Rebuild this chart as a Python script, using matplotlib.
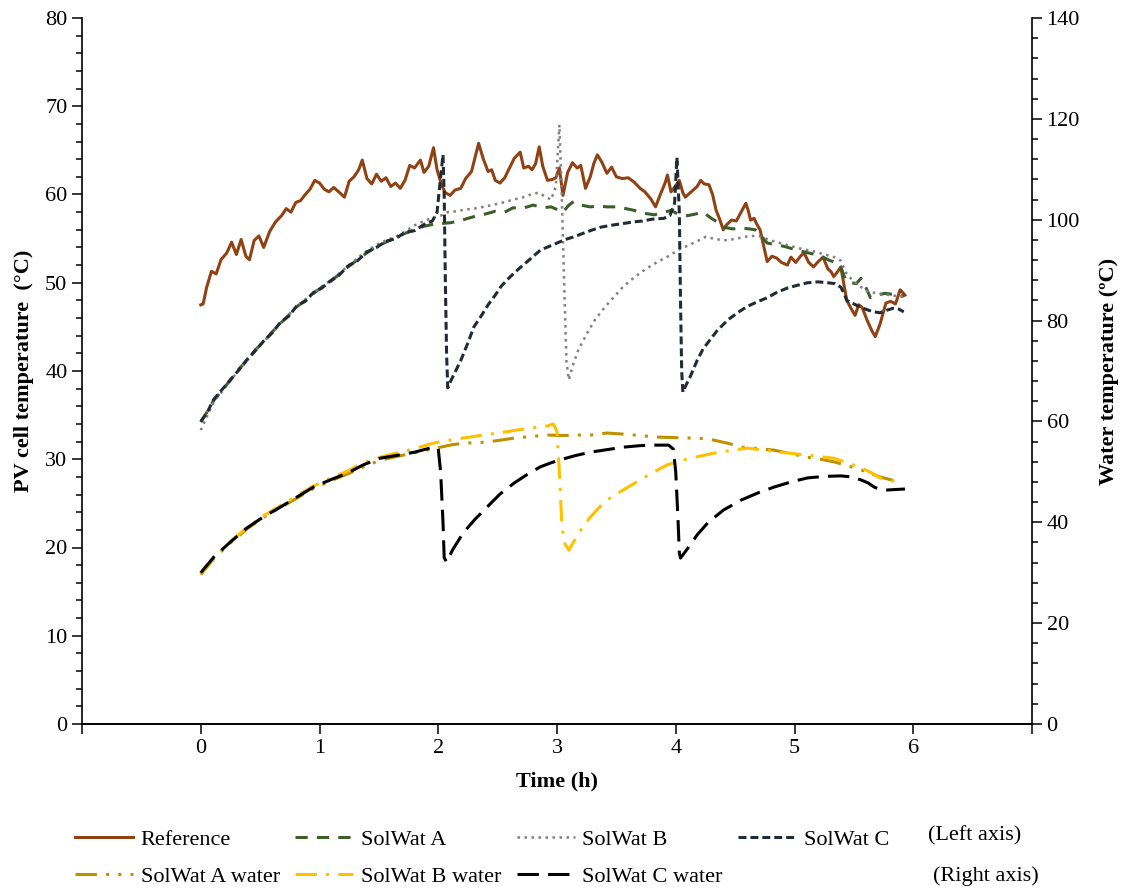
import numpy as np
import matplotlib.pyplot as plt
from matplotlib.ticker import MultipleLocator

plt.rcParams['font.family'] = ['Liberation Serif', 'DejaVu Serif']
plt.rcParams['font.size'] = 16

# ---- PV cell temperatures (left axis) ----
t_ref = [0.00, 0.02, 0.05, 0.09, 0.13, 0.17, 0.22, 0.26, 0.30, 0.34, 0.38, 0.41, 0.45, 0.49, 0.53,
         0.58, 0.63, 0.68, 0.72, 0.76, 0.80, 0.84, 0.88, 0.92, 0.96, 1.00, 1.04, 1.08, 1.12, 1.17,
         1.21, 1.25, 1.29, 1.33, 1.36, 1.40, 1.44, 1.48, 1.52, 1.56, 1.60, 1.64, 1.68, 1.72, 1.76,
         1.80, 1.85, 1.88, 1.92, 1.96, 1.99, 2.03, 2.06, 2.10, 2.14, 2.19, 2.23, 2.28, 2.31, 2.34,
         2.38, 2.42, 2.45, 2.48, 2.52, 2.56, 2.60, 2.64, 2.69, 2.72, 2.76, 2.79, 2.82, 2.85, 2.88,
         2.92, 2.96, 2.99, 3.02, 3.05, 3.09, 3.13, 3.17, 3.20, 3.24, 3.28, 3.31, 3.34, 3.38, 3.42,
         3.46, 3.50, 3.55, 3.60, 3.65, 3.70, 3.74, 3.79, 3.83, 3.87, 3.91, 3.93, 3.96, 4.00, 4.03,
         4.06, 4.08, 4.13, 4.18, 4.21, 4.24, 4.28, 4.31, 4.34, 4.37, 4.40, 4.43, 4.47, 4.51, 4.55,
         4.59, 4.61, 4.63, 4.66, 4.68, 4.71, 4.74, 4.77, 4.81, 4.85, 4.89, 4.94, 4.97, 5.01, 5.05,
         5.08, 5.12, 5.16, 5.20, 5.24, 5.28, 5.31, 5.33, 5.36, 5.39, 5.42, 5.44, 5.48, 5.51, 5.54,
         5.57, 5.61, 5.65, 5.68, 5.72, 5.77, 5.81, 5.85, 5.89, 5.93]
reference = [47.5, 47.6, 49.5, 51.3, 51.0, 52.6, 53.4, 54.6, 53.2, 54.9, 53.0, 52.6, 54.8, 55.3, 54.0,
             55.8, 56.9, 57.6, 58.4, 58.0, 59.1, 59.3, 60.0, 60.6, 61.6, 61.3, 60.6, 60.3, 60.8, 60.2,
             59.7, 61.5, 62.0, 62.8, 63.9, 61.8, 61.2, 62.3, 61.5, 61.9, 60.9, 61.3, 60.7, 61.6, 63.3,
             63.0, 63.9, 62.5, 63.2, 65.3, 62.8, 61.0, 60.2, 59.9, 60.5, 60.7, 61.8, 62.6, 64.2, 65.8,
             64.0, 62.6, 62.8, 61.6, 61.3, 61.9, 63.0, 64.1, 64.8, 63.0, 63.2, 62.8, 63.5, 65.4, 63.2,
             61.6, 61.7, 61.9, 63.0, 59.9, 62.5, 63.6, 63.0, 63.3, 60.7, 62.0, 63.5, 64.5, 63.6, 62.4,
             63.1, 62.0, 61.8, 61.9, 61.4, 60.7, 60.3, 59.5, 58.6, 60.0, 61.3, 62.2, 60.3, 61.0, 61.6,
             60.2, 59.7, 60.3, 60.9, 61.6, 61.2, 61.1, 60.0, 58.2, 57.2, 56.0, 56.6, 57.1, 57.0, 58.0,
             59.0, 58.2, 57.1, 57.3, 56.7, 56.0, 54.2, 52.4, 53.0, 52.8, 52.3, 52.0, 52.9, 52.3, 53.0,
             53.4, 52.3, 51.8, 52.4, 52.9, 51.6, 51.2, 50.7, 51.2, 51.8, 49.5, 48.0, 47.0, 46.3, 47.5,
             47.2, 45.8, 44.6, 43.9, 45.3, 47.7, 47.9, 47.6, 49.2, 48.6]

t_a = [0.00, 0.05, 0.11, 0.18, 0.25, 0.32, 0.39, 0.46, 0.53, 0.60, 0.67, 0.74, 0.81, 0.88, 0.95,
       1.02, 1.09, 1.16, 1.24, 1.32, 1.40, 1.48, 1.56, 1.64, 1.72, 1.80, 1.88, 1.95, 2.02, 2.10,
       2.18, 2.25, 2.33, 2.40, 2.48, 2.56, 2.63, 2.70, 2.80, 2.88, 2.95, 3.00, 3.05, 3.10, 3.14,
       3.20, 3.28, 3.35, 3.42, 3.50, 3.58, 3.65, 3.72, 3.82, 3.88, 3.96, 4.03, 4.10, 4.17, 4.23,
       4.30, 4.36, 4.40, 4.48, 4.55, 4.62, 4.67, 4.72, 4.77, 4.85, 4.92, 4.97, 5.05, 5.11, 5.18,
       5.24, 5.30, 5.35, 5.39, 5.43, 5.48, 5.52, 5.56, 5.60, 5.64, 5.70, 5.76, 5.82, 5.88, 5.92]
solwat_a = [34.2, 35.3, 36.7, 37.8, 39.0, 40.2, 41.2, 42.4, 43.3, 44.4, 45.4, 46.3, 47.3, 48.0, 48.8,
            49.5, 50.1, 50.9, 51.8, 52.6, 53.4, 54.1, 54.6, 55.1, 55.6, 56.0, 56.4, 56.6, 56.7, 56.8,
            57.0, 57.3, 57.6, 57.8, 58.1, 58.0, 58.5, 58.4, 58.8, 58.5, 58.6, 58.3, 58.0, 58.8, 59.2,
            58.8, 58.6, 58.7, 58.6, 58.6, 58.4, 58.2, 57.9, 57.7, 57.9, 58.2, 57.7, 57.6, 57.8, 58.0,
            57.3, 56.8, 56.3, 56.1, 56.2, 56.1, 56.0, 55.3, 54.5, 54.3, 54.1, 53.9, 53.6, 53.4, 53.2,
            52.9, 52.5, 52.3, 51.8, 50.3, 50.0, 49.9, 50.5, 49.5, 48.3, 48.6, 48.8, 48.7, 48.7, 48.4]

t_b = [0.00, 0.05, 0.11, 0.18, 0.25, 0.32, 0.39, 0.46, 0.53, 0.60, 0.67, 0.74, 0.81, 0.88, 0.95,
       1.02, 1.09, 1.16, 1.24, 1.32, 1.40, 1.48, 1.56, 1.64, 1.72, 1.80, 1.88, 1.96, 2.02, 2.08,
       2.15, 2.23, 2.30, 2.38, 2.45, 2.52, 2.60, 2.66, 2.72, 2.78, 2.84, 2.90, 2.95, 2.99, 3.02,
       3.04, 3.06, 3.08, 3.10, 3.13, 3.18, 3.25, 3.32, 3.40, 3.48, 3.56, 3.65, 3.72, 3.80, 3.88,
       3.95, 4.02, 4.10, 4.18, 4.25, 4.32, 4.40, 4.47, 4.55, 4.62, 4.70, 4.80, 4.88, 4.96, 5.04,
       5.11, 5.18, 5.25, 5.32, 5.39, 5.43, 5.48, 5.55, 5.62, 5.70, 5.80, 5.92]
solwat_b = [33.3, 34.8, 36.5, 37.7, 38.9, 40.1, 41.2, 42.3, 43.3, 44.4, 45.4, 46.4, 47.3, 48.1, 48.9,
            49.6, 50.2, 51.0, 51.9, 52.8, 53.6, 54.3, 54.8, 55.2, 55.8, 56.5, 57.0, 57.4, 57.6, 58.0,
            58.1, 58.3, 58.4, 58.6, 58.8, 59.0, 59.3, 59.5, 59.7, 60.0, 60.2, 59.8, 59.4, 60.9, 67.9,
            60.0, 50.0, 41.0, 39.0, 40.5, 42.4, 44.2, 45.8, 47.2, 48.4, 49.6, 50.6, 51.3, 52.0, 52.6,
            53.1, 53.7, 54.2, 54.7, 55.2, 55.0, 54.8, 54.9, 55.1, 55.3, 55.3, 54.8, 54.5, 54.2, 53.9,
            53.7, 53.5, 53.2, 53.0, 52.5, 51.2, 50.4, 49.6, 49.0, 48.8, 48.6, 48.4]

t_c = [0.00, 0.05, 0.11, 0.18, 0.25, 0.32, 0.39, 0.46, 0.53, 0.60, 0.67, 0.74, 0.81, 0.88, 0.95,
       1.02, 1.09, 1.16, 1.24, 1.32, 1.40, 1.48, 1.56, 1.64, 1.72, 1.80, 1.88, 1.95, 1.99, 2.02,
       2.04, 2.05, 2.06, 2.07, 2.08, 2.11, 2.15, 2.19, 2.25, 2.30, 2.36, 2.42, 2.48, 2.53, 2.60,
       2.68, 2.75, 2.86, 2.93, 3.00, 3.07, 3.14, 3.22, 3.30, 3.37, 3.45, 3.55, 3.65, 3.72, 3.80,
       3.90, 3.95, 3.99, 4.01, 4.03, 4.04, 4.05, 4.06, 4.09, 4.12, 4.18, 4.23, 4.27, 4.35, 4.44,
       4.52, 4.60, 4.68, 4.77, 4.85, 4.94, 5.02, 5.11, 5.20, 5.28, 5.34, 5.39, 5.42, 5.44, 5.50,
       5.56, 5.62, 5.67, 5.72, 5.78, 5.83, 5.88, 5.92]
solwat_c = [34.3, 35.2, 36.8, 37.9, 39.0, 40.1, 41.3, 42.3, 43.4, 44.3, 45.5, 46.2, 47.4, 47.9, 48.9,
            49.4, 50.2, 50.8, 51.9, 52.5, 53.5, 54.0, 54.7, 55.0, 55.7, 55.9, 56.6, 57.0, 58.0, 62.0,
            64.5, 60.0, 50.0, 42.0, 38.1, 39.0, 40.1, 41.2, 43.2, 45.0, 46.2, 47.5, 48.6, 49.6, 50.6,
            51.6, 52.4, 53.7, 54.1, 54.5, 54.9, 55.2, 55.6, 56.0, 56.3, 56.5, 56.7, 56.9, 57.0, 57.2,
            57.3, 57.6, 59.0, 64.2, 58.0, 48.0, 40.0, 37.6, 38.5, 39.3, 41.2, 42.5, 43.2, 44.6, 45.8,
            46.6, 47.3, 47.8, 48.3, 48.9, 49.4, 49.7, 50.0, 50.1, 50.0, 49.9, 49.5, 48.7, 48.0, 47.6,
            47.2, 46.9, 46.7, 46.6, 46.9, 47.1, 47.0, 46.7]

# ---- water temperatures (right axis) ----
t_aw = [0.00, 0.11, 0.25, 0.39, 0.53, 0.67, 0.81, 0.95, 1.09, 1.24, 1.37, 1.51, 1.66, 1.80, 1.96,
        2.10, 2.21, 2.35, 2.50, 2.64, 2.78, 2.92, 3.05, 3.18, 3.28, 3.42, 3.55, 3.70, 3.84, 3.98,
        4.12, 4.22, 4.32, 4.45, 4.55, 4.70, 4.83, 4.97, 5.11, 5.22, 5.33, 5.45, 5.56, 5.65, 5.72,
        5.80, 5.89]
solwat_a_water = [29.6, 32.8, 35.9, 38.7, 41.0, 42.9, 44.8, 46.7, 48.2, 49.6, 51.0, 52.3, 53.1, 53.8, 54.6,
                  55.3, 55.7, 55.8, 56.2, 56.7, 57.0, 57.3, 57.2, 57.3, 57.3, 57.7, 57.5, 57.2, 56.9, 56.8,
                  56.7, 56.6, 56.3, 55.6, 54.9, 54.6, 54.3, 53.6, 52.9, 52.5, 52.0, 51.2, 50.4, 49.6, 49.0,
                  48.5, 48.0]

t_bw = [0.00, 0.11, 0.25, 0.39, 0.53, 0.67, 0.81, 0.95, 1.09, 1.24, 1.37, 1.51, 1.66, 1.80, 1.96,
        2.10, 2.21, 2.35, 2.50, 2.64, 2.78, 2.90, 2.97, 3.00, 3.02, 3.04, 3.06, 3.10, 3.15, 3.22,
        3.28, 3.35, 3.42, 3.50, 3.60, 3.70, 3.80, 3.93, 4.07, 4.20, 4.32, 4.45, 4.60, 4.75, 4.88,
        5.00, 5.11, 5.22, 5.33, 5.45, 5.56, 5.65, 5.72, 5.80, 5.88]
solwat_b_water = [29.8, 33.0, 36.2, 39.0, 41.3, 43.3, 45.3, 47.2, 48.7, 50.2, 51.8, 52.9, 53.8, 54.6, 55.7,
                  56.3, 56.7, 57.2, 57.7, 58.2, 58.7, 59.0, 59.5, 58.0, 50.0, 40.0, 36.0, 34.5, 36.5, 39.2,
                  41.0, 42.8, 44.4, 45.6, 47.0, 48.4, 49.8, 51.4, 52.4, 53.1, 53.7, 54.2, 54.7, 54.3, 53.9,
                  53.6, 53.3, 53.0, 52.7, 51.8, 50.8, 49.8, 48.8, 48.3, 48.0]

t_cw = [0.00, 0.11, 0.25, 0.39, 0.53, 0.67, 0.81, 0.95, 1.09, 1.24, 1.37, 1.51, 1.66, 1.80, 1.96,
        2.00, 2.02, 2.04, 2.05, 2.07, 2.12, 2.21, 2.31, 2.41, 2.52, 2.64, 2.75, 2.86, 2.95, 3.03,
        3.15, 3.28, 3.42, 3.56, 3.70, 3.79, 3.94, 3.98, 4.00, 4.02, 4.03, 4.04, 4.10, 4.18, 4.27,
        4.40, 4.55, 4.70, 4.83, 4.97, 5.11, 5.25, 5.39, 5.48, 5.56, 5.62, 5.67, 5.72, 5.78, 5.85,
        5.93]
solwat_c_water = [30.0, 33.1, 36.1, 38.9, 41.1, 43.0, 45.0, 47.0, 48.4, 49.8, 51.4, 52.7, 53.3, 53.9, 54.9,
                  54.6, 50.0, 40.0, 33.0, 32.1, 34.5, 37.9, 40.6, 43.0, 45.6, 47.8, 49.5, 51.0, 51.8, 52.4,
                  53.2, 53.9, 54.4, 54.9, 55.2, 55.3, 55.3, 54.5, 50.0, 40.0, 34.0, 32.9, 34.8, 37.5, 39.9,
                  42.4, 44.4, 45.9, 47.0, 48.0, 48.8, 49.1, 49.2, 49.0, 48.4, 47.8, 47.0, 46.5, 46.4, 46.5,
                  46.6]

xticks = [-1, 0, 1, 2, 3, 4, 5, 6, 7]
xtick_labels = ['', '0', '1', '2', '3', '4', '5', '6', '']

fig = plt.figure(figsize=(11.25, 8.91), dpi=100)
ax = fig.add_axes([82 / 1125, 1 - 724 / 891, 950 / 1125, 706 / 891])
ax2 = ax.twinx()

lw = 2.2
l_ref, = ax.plot(t_ref, reference, color='#8f4214', lw=lw, label='Reference')
l_a, = ax.plot(t_a, solwat_a, color='#3b5e2b', lw=lw, dashes=(4, 3), label='SolWat A')
l_b, = ax.plot(t_b, solwat_b, color='#7f7f7f', lw=1.8, dashes=(1, 1.8), label='SolWat B')
l_c, = ax.plot(t_c, solwat_c, color='#222b35', lw=lw, dashes=(2.6, 1.3), label='SolWat C')

l_aw, = ax2.plot(t_aw, solwat_a_water, color='#bf9000', lw=lw, dashes=(7, 3, 1, 3, 1, 3),
                 label='SolWat A water')
l_bw, = ax2.plot(t_bw, solwat_b_water, color='#ffc000', lw=lw, dashes=(7, 3, 1, 3),
                 label='SolWat B water')
l_cw, = ax2.plot(t_cw, solwat_c_water, color='black', lw=lw, dashes=(7, 3),
                 label='SolWat C water')

ax.set_xlim(-1, 7)
ax.set_ylim(0, 80)
ax2.set_ylim(0, 140)
ax.set_xticks(xticks)
ax.set_xticklabels(xtick_labels)
ax.yaxis.set_major_locator(MultipleLocator(10))
ax.yaxis.set_minor_locator(MultipleLocator(2))
ax2.yaxis.set_major_locator(MultipleLocator(20))
ax2.yaxis.set_minor_locator(MultipleLocator(4))

for a in (ax, ax2):
    a.spines['top'].set_visible(False)
    for s in a.spines.values():
        s.set_linewidth(1.2)
    a.tick_params(which='major', length=7, width=1.1, labelsize=16)
    a.tick_params(which='minor', length=4, width=1.1)
ax2.spines['left'].set_visible(False)
ax.spines['right'].set_visible(False)

ax.set_xlabel('Time (h)', fontweight='bold', fontsize=16, labelpad=10)
ax.set_ylabel('PV cell temperature  (°C)', fontweight='bold', fontsize=16, labelpad=8)
ax2.set_ylabel('Water temperature (ºC)', fontweight='bold', fontsize=16, labelpad=14)

handles = [l_ref, l_aw, l_a, l_bw, l_b, l_cw, l_c]
fig.legend(handles=handles, loc='upper left', bbox_to_anchor=(64 / 1125, 1 - 818 / 891),
           ncol=4, frameon=False, fontsize=16, handlelength=2.6, handletextpad=0.35,
           columnspacing=0.7, labelspacing=0.75, borderpad=0)
fig.text(928 / 1125, 1 - 836 / 891, '(Left axis)', fontsize=16, va='center')
fig.text(933 / 1125, 1 - 876 / 891, '(Right axis)', fontsize=16, va='center')

fig.savefig('out.png', dpi=100)
